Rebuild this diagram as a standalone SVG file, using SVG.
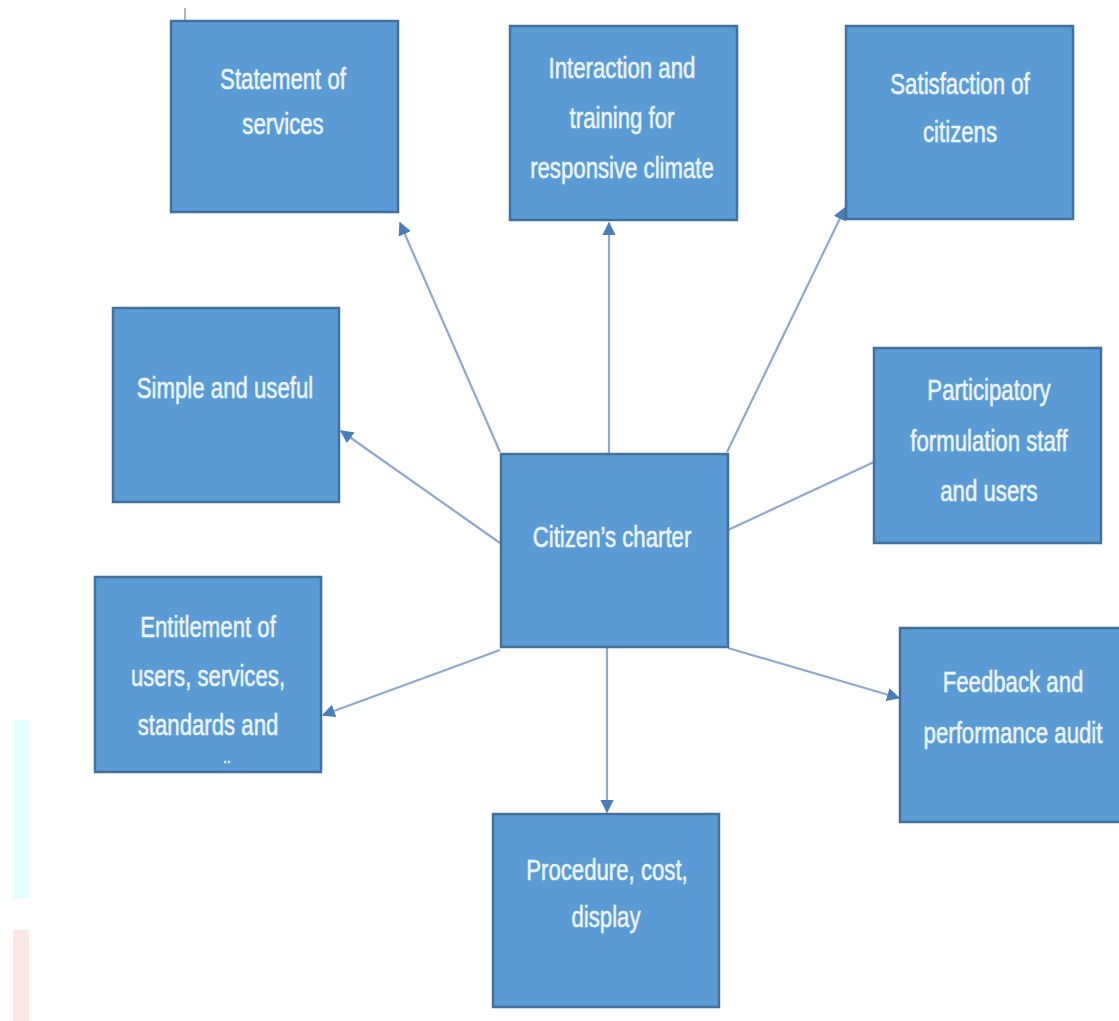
<svg xmlns="http://www.w3.org/2000/svg" width="1119" height="1021" viewBox="0 0 1119 1021">
<style>
.box{fill:#5B9BD5;stroke:#41719C;stroke-width:2.5}
.t{font-family:"Liberation Sans","DejaVu Sans",sans-serif;font-size:30px;fill:#EAF4FC;stroke:#EAF4FC;stroke-width:0.6;text-anchor:middle}
.ln{stroke:#8FA8CC;stroke-width:2.2;fill:none}
</style>
<defs>
<marker id="ah" viewBox="0 0 10 10" refX="9" refY="5" markerWidth="6" markerHeight="6" orient="auto" markerUnits="strokeWidth">
<path d="M0,0 L10,5 L0,10 z" fill="#4A7EBB"/>
</marker>
</defs>
<rect width="1119" height="1021" fill="#FFFFFF"/>
<rect x="13" y="720" width="16" height="178" fill="#E2FEFE"/>
<rect x="13" y="930" width="16" height="91" fill="#FDE6E6"/>
<line x1="185" y1="8" x2="185" y2="75" stroke="#9A9A9A" stroke-width="1.5"/>
<g id="connectors">
<line class="ln" x1="500" y1="452" x2="400" y2="223" marker-end="url(#ah)"/>
<line class="ln" x1="609" y1="454" x2="609" y2="223" marker-end="url(#ah)"/>
<line class="ln" x1="727" y1="452" x2="845" y2="208" marker-end="url(#ah)"/>
<line class="ln" x1="500" y1="543" x2="341" y2="431" marker-end="url(#ah)"/>
<line class="ln" x1="728" y1="530" x2="874" y2="462"/>
<line class="ln" x1="500" y1="650" x2="323" y2="715" marker-end="url(#ah)"/>
<line class="ln" x1="728" y1="648" x2="899" y2="698" marker-end="url(#ah)"/>
<line class="ln" x1="607" y1="647" x2="607" y2="812" marker-end="url(#ah)"/>
</g>
<g id="n-statement">
<rect class="box" x="171" y="21" width="227" height="191"/>
<text class="t" transform="translate(283,89) scale(0.74 1)">Statement of</text>
<text class="t" transform="translate(283,134) scale(0.74 1)">services</text>
</g>
<g id="n-interaction">
<rect class="box" x="510" y="26" width="227" height="194"/>
<text class="t" transform="translate(622,78) scale(0.74 1)">Interaction and</text>
<text class="t" transform="translate(622,128) scale(0.74 1)">training for</text>
<text class="t" transform="translate(622,178) scale(0.74 1)">responsive climate</text>
</g>
<g id="n-satisfaction">
<rect class="box" x="846" y="26" width="227" height="193"/>
<text class="t" transform="translate(960,94) scale(0.74 1)">Satisfaction of</text>
<text class="t" transform="translate(960,142) scale(0.74 1)">citizens</text>
</g>
<g id="n-simple">
<rect class="box" x="113" y="308" width="226" height="194"/>
<text class="t" transform="translate(225,398) scale(0.74 1)">Simple and useful</text>
</g>
<g id="n-participatory">
<rect class="box" x="874" y="348" width="227" height="195"/>
<text class="t" transform="translate(989,400) scale(0.74 1)">Participatory</text>
<text class="t" transform="translate(989,451) scale(0.74 1)">formulation staff</text>
<text class="t" transform="translate(989,501) scale(0.74 1)">and users</text>
</g>
<g id="n-center">
<rect class="box" x="501" y="454" width="227" height="193"/>
<text class="t" transform="translate(612,547) scale(0.74 1)">Citizen’s charter</text>
</g>
<g id="n-entitlement">
<rect class="box" x="95" y="577" width="226" height="195"/>
<text class="t" transform="translate(208,637) scale(0.74 1)">Entitlement of</text>
<text class="t" transform="translate(208,686) scale(0.74 1)">users, services,</text>
<text class="t" transform="translate(208,735) scale(0.74 1)">standards and</text>
<text class="t" style="font-size:18px" transform="translate(227,763) scale(0.74 1)">..</text>
</g>
<g id="n-feedback">
<rect class="box" x="900" y="628" width="222" height="194"/>
<text class="t" transform="translate(1013,692) scale(0.74 1)">Feedback and</text>
<text class="t" transform="translate(1013,743) scale(0.74 1)">performance audit</text>
</g>
<g id="n-procedure">
<rect class="box" x="493" y="814" width="226" height="193"/>
<text class="t" transform="translate(607,880) scale(0.74 1)">Procedure, cost,</text>
<text class="t" transform="translate(606,927) scale(0.74 1)">display</text>
</g>
</svg>
